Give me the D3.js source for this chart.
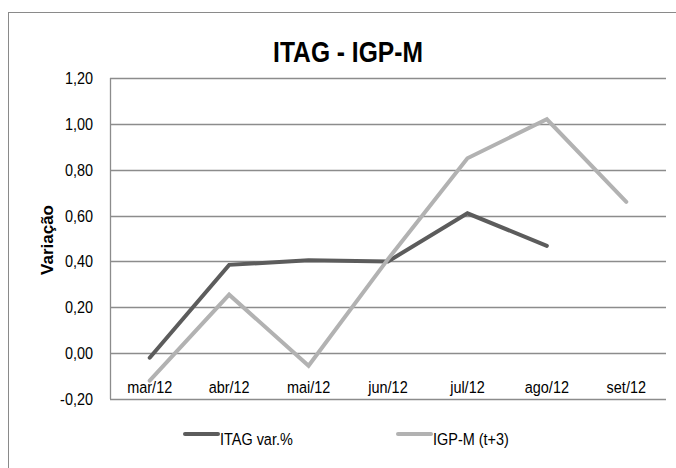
<!DOCTYPE html>
<html lang="pt">
<head>
  <meta charset="UTF-8" />
  <title>ITAG - IGP-M</title>
  <script src="https://cdn.jsdelivr.net/npm/d3@7/dist/d3.min.js"></script>
  <style>
    body { margin: 0; background: #fff; }
    text { font-family: 'Liberation Sans', Arial, sans-serif; fill: #000; }
  </style>
</head>
<body>
  <svg width="676" height="468"></svg>

  <script>
    // dados
    const months = ['mar/12', 'abr/12', 'mai/12', 'jun/12', 'jul/12', 'ago/12', 'set/12'];
    const itag = [-0.02, 0.385, 0.405, 0.40, 0.61, 0.468];
    const igpm = [-0.12, 0.255, -0.055, 0.41, 0.85, 1.02, 0.66];
    const yTicks = [-0.2, 0, 0.2, 0.4, 0.6, 0.8, 1.0, 1.2];

    const series = [
      { name: 'ITAG var.%', values: itag, color: '#5c5c5c' },
      { name: 'IGP-M (t+3)', values: igpm, color: '#b2b2b2' },
    ];

    const svg = d3.select('svg');
    const plotL = 110, plotR = 666, plotT = 78, plotB = 399;
    const narrow = 0.85; // texto condensado (tipo Calibri)

    // texto com escala horizontal
    function label(parent, x, y, str, size, anchor, sx) {
      return parent.append('text')
        .attr('transform', `translate(${x},${y}) scale(${sx},1)`)
        .attr('text-anchor', anchor)
        .style('font-size', size + 'px')
        .text(str);
    }

    // moldura externa
    svg.append('rect')
      .attr('x', 8.5).attr('y', 12.5)
      .attr('width', 700).attr('height', 500)
      .attr('fill', 'none').attr('stroke', '#8a8a8a');

    const x = d3.scaleBand().domain(months).range([plotL, plotR]);
    const y = d3.scaleLinear().domain([-0.2, 1.2]).range([plotB, plotT]);

    // grade
    svg.append('g')
      .selectAll('line')
      .data(yTicks)
      .enter()
      .append('line')
      .attr('x1', plotL).attr('x2', plotR)
      .attr('y1', (d) => Math.round(y(d)) + 0.5)
      .attr('y2', (d) => Math.round(y(d)) + 0.5)
      .attr('stroke', '#8c8c8c')
      .attr('stroke-width', 1.3);

    svg.append('line')
      .attr('x1', plotL + 0.5).attr('x2', plotL + 0.5)
      .attr('y1', plotT).attr('y2', plotB)
      .attr('stroke', '#8c8c8c').attr('stroke-width', 1.3);

    // rótulos eixo y
    const fmt = (d) => d3.format('.2f')(d).replace('.', ',').replace('−', '-');
    const gy = svg.append('g');
    yTicks.forEach((d) => label(gy, 93, y(d) + 6, fmt(d), 17, 'end', narrow));

    // rótulos eixo x
    const gx = svg.append('g');
    months.forEach((d) => label(gx, x(d) + x.bandwidth() / 2, 393, d, 17, 'middle', narrow));

    // linhas
    const line = d3.line()
      .x((d, i) => x(months[i]) + x.bandwidth() / 2)
      .y((d) => y(d));

    svg.append('g')
      .selectAll('path')
      .data(series)
      .enter()
      .append('path')
      .attr('d', (d) => line(d.values))
      .attr('fill', 'none')
      .attr('stroke', (d) => d.color)
      .attr('stroke-width', 4)
      .attr('stroke-linejoin', 'miter')
      .attr('stroke-linecap', 'round');

    // título
    label(svg, 348, 62, 'ITAG - IGP-M', 30, 'middle', 0.82)
      .style('font-weight', 'bold');

    // título eixo y
    svg.append('text')
      .attr('transform', 'translate(52.5,240) rotate(-90)')
      .attr('text-anchor', 'middle')
      .style('font-size', '17px')
      .style('font-weight', 'bold')
      .text('Variação');

    // legenda
    const legX = [185, 398];
    series.forEach((s, i) => {
      const g = svg.append('g').attr('transform', `translate(${legX[i]},434)`);
      g.append('line')
        .attr('x1', 0).attr('x2', 33)
        .attr('stroke', s.color)
        .attr('stroke-width', 4)
        .attr('stroke-linecap', 'round');
      label(g, 35, 11, s.name, 17, 'start', narrow);
    });
  </script>
</body>
</html>
